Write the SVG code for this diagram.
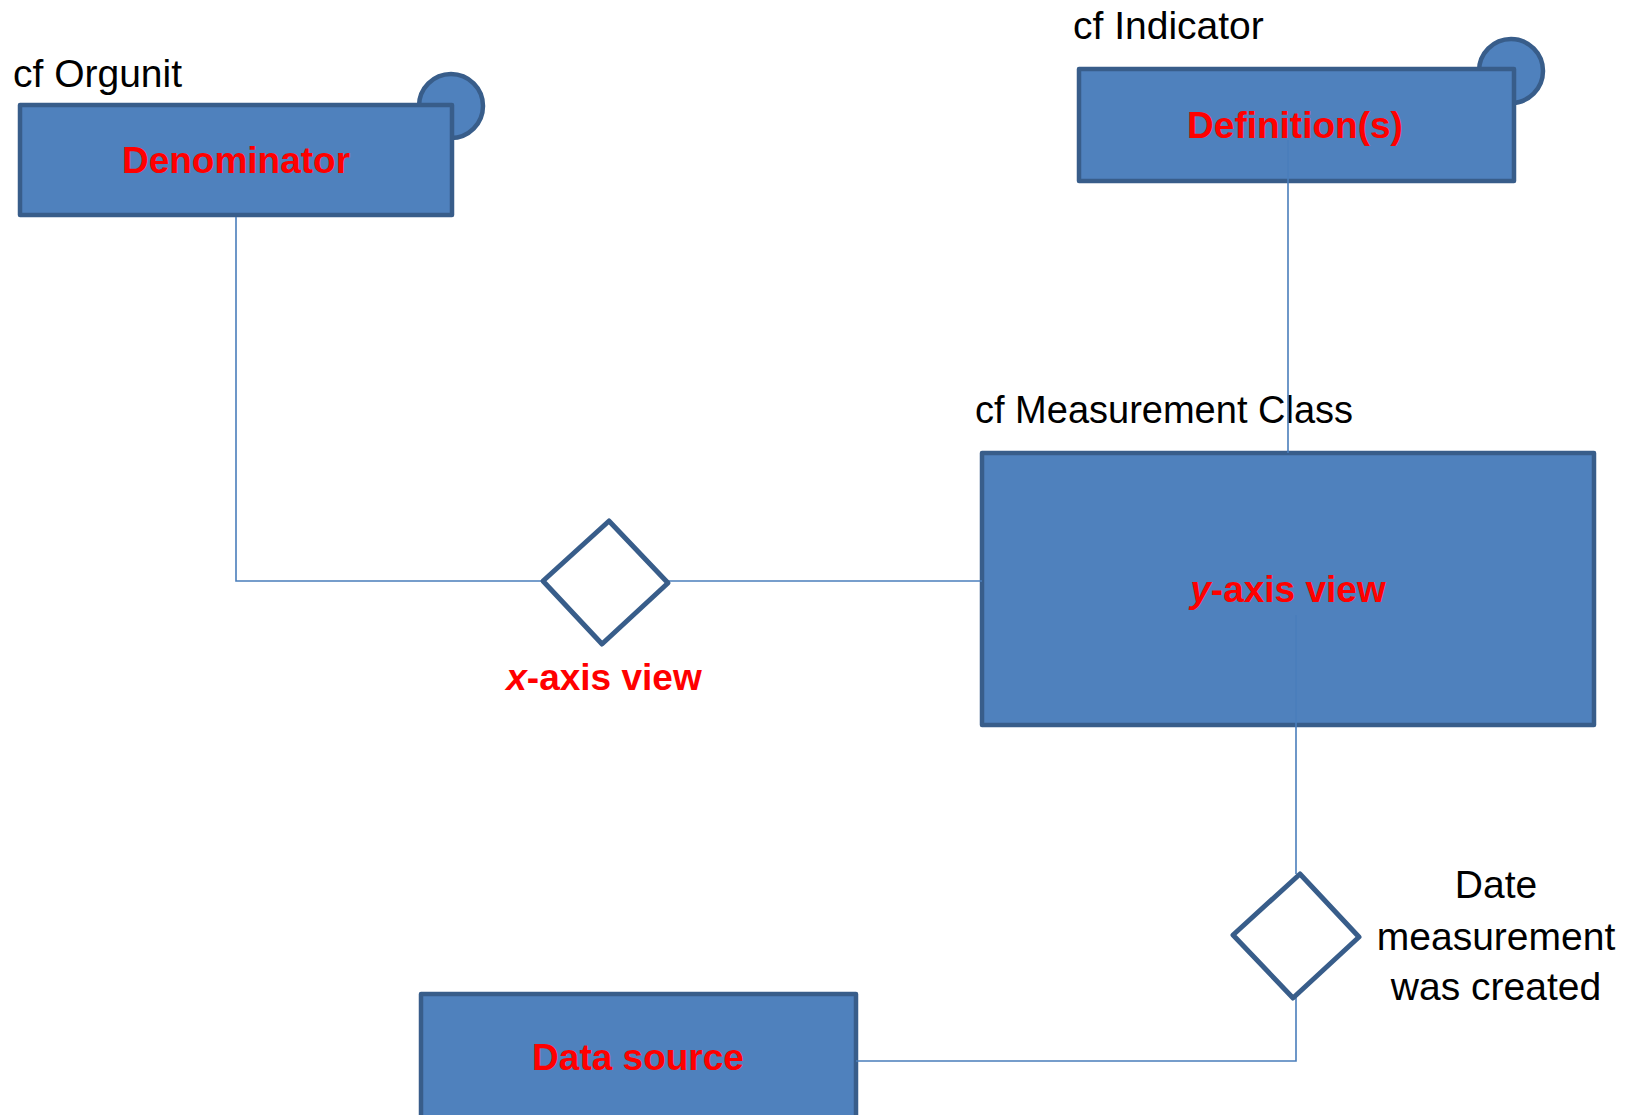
<svg xmlns="http://www.w3.org/2000/svg" width="1635" height="1115" viewBox="0 0 1635 1115">
<style>
.box{fill:#4F81BD;stroke:#385D8A;stroke-width:4.5;stroke-linejoin:round}
.dia{fill:#FFFFFF;stroke:#385D8A;stroke-width:5;stroke-linejoin:round}
.con{fill:none;stroke:#4A7EBB;stroke-width:1.6}
.lbl{font-family:"Liberation Sans",Arial,sans-serif;font-size:37px;font-weight:bold;fill:#FF0000;text-anchor:middle}
.cap{font-family:"Liberation Sans",Arial,sans-serif;font-size:39px;fill:#000000}
</style>
<rect width="1635" height="1115" fill="#FFFFFF"/>
<g id="denominator">
<circle class="box" cx="451" cy="106" r="32"/>
<rect class="box" x="20" y="105" width="432" height="110"/>
<text class="cap" x="13" y="87">cf Orgunit</text>
</g>
<g id="definitions">
<circle class="box" cx="1511" cy="71" r="32"/>
<rect class="box" x="1079" y="69" width="435" height="112"/>
<text class="cap" x="1073" y="39">cf Indicator</text>
</g>
<g id="measurement">
<rect class="box" x="982" y="453" width="612" height="272"/>
<text class="cap" x="975" y="423" style="font-size:38px">cf Measurement Class</text>
</g>
<g id="datasource">
<rect class="box" x="421" y="994" width="435" height="140"/>
</g>
<g id="connectors">
<polyline class="con" points="236,217 236,581 543,581"/>
<line class="con" x1="668" y1="581" x2="982" y2="581"/>
<line class="con" x1="1288" y1="140" x2="1288" y2="453"/>
<line class="con" x1="1296" y1="615" x2="1296" y2="874"/>
<polyline class="con" points="1296,996 1296,1061 856,1061"/>
</g>
<g id="xaxis">
<polygon class="dia" points="609,521 668,583 602,644 543,581"/>
<text class="lbl" x="604" y="690"><tspan font-style="italic">x</tspan>-axis view</text>
</g>
<g id="date">
<polygon class="dia" points="1300,874 1359,937 1293,998 1233,935"/>
<text class="cap" text-anchor="middle" x="1496" y="898">Date</text>
<text class="cap" text-anchor="middle" x="1496" y="950">measurement</text>
<text class="cap" text-anchor="middle" x="1496" y="1000">was created</text>
</g>
<g id="labels">
<text class="lbl" x="236" y="173">Denominator</text>
<text class="lbl" x="1295" y="138">Definition(s)</text>
<text class="lbl" x="1288" y="602"><tspan font-style="italic">y</tspan>-axis view</text>
<text class="lbl" x="638" y="1070">Data source</text>
</g>
</svg>
